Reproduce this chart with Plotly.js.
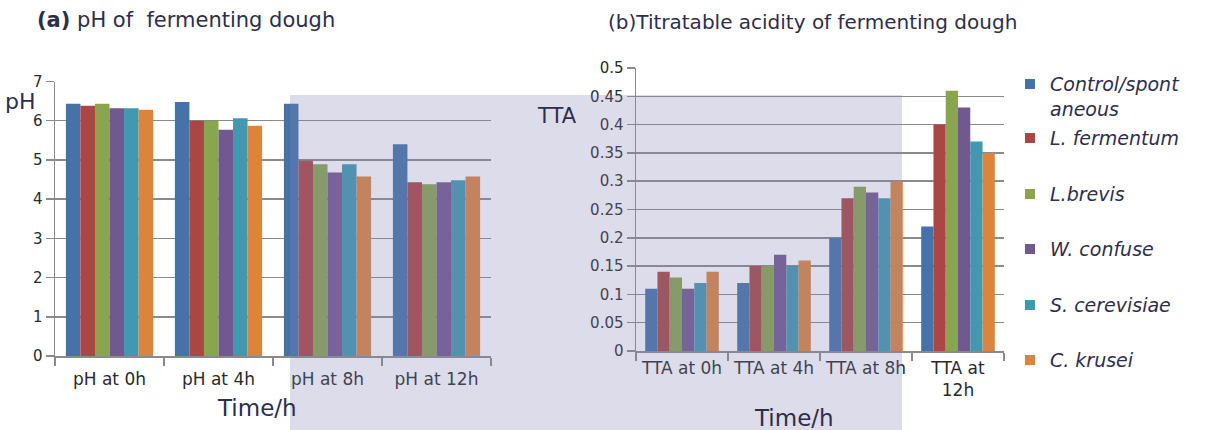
<!DOCTYPE html>
<html>
<head>
<meta charset="utf-8">
<script src="https://cdn.plot.ly/plotly-3.0.1.min.js"></script>
<style>html,body{margin:0;padding:0;background:#fff;}#chart{width:1209px;height:430px;}</style>
</head>
<body>
<div id="chart"></div>
<script>
// ---- data ----
var seriesNames = ["Control/spont<br>aneous", "L. fermentum", "L.brevis", "W. confuse", "S. cerevisiae", "C. krusei"];
var seriesColors = ["#4572A7", "#AA4643", "#89A54E", "#71588F", "#4198AF", "#DB843D"];

var phCategories = ["pH at 0h", "pH at 4h", "pH at 8h", "pH at 12h"];
var phControl   = [6.43, 6.48, 6.43, 5.40];
var phFermentum = [6.38, 6.00, 4.98, 4.43];
var phBrevis    = [6.43, 6.00, 4.89, 4.38];
var phConfuse   = [6.32, 5.77, 4.68, 4.43];
var phCerev     = [6.32, 6.06, 4.89, 4.48];
var phKrusei    = [6.28, 5.87, 4.58, 4.58];

var ttaCategories = ["TTA at 0h", "TTA at 4h", "TTA at 8h", "TTA at<br>12h"];
var ttaControl   = [0.11, 0.12, 0.20, 0.22];
var ttaFermentum = [0.14, 0.15, 0.27, 0.40];
var ttaBrevis    = [0.13, 0.15, 0.29, 0.46];
var ttaConfuse   = [0.11, 0.17, 0.28, 0.43];
var ttaCerev     = [0.12, 0.15, 0.27, 0.37];
var ttaKrusei    = [0.14, 0.16, 0.30, 0.35];

var phSeries  = [phControl, phFermentum, phBrevis, phConfuse, phCerev, phKrusei];
var ttaSeries = [ttaControl, ttaFermentum, ttaBrevis, ttaConfuse, ttaCerev, ttaKrusei];

// ---- layout helpers (pixel -> paper) ----
var W = 1209, H = 430;
function px(x){ return x / W; }
function py(y){ return 1 - y / H; }

var traces = [];
phSeries.forEach(function(vals, i){
  traces.push({type:'bar', x: phCategories, y: vals, name: seriesNames[i],
    marker:{color: seriesColors[i]}, xaxis:'x', yaxis:'y', showlegend:false, hoverinfo:'y'});
});
ttaSeries.forEach(function(vals, i){
  traces.push({type:'bar', x: ttaCategories, y: vals, name: seriesNames[i],
    marker:{color: seriesColors[i]}, xaxis:'x2', yaxis:'y2', showlegend:false, hoverinfo:'y'});
});

var gridC = '#8a8a8a';
var xTickFont = {family:'DejaVu Sans', size:17, color:'#2a2a2a'};
var yTickFont = {family:'DejaVu Sans', size:15, color:'#2a2a2a'};
var axisText = '#2e2e4a';

function xAxis(d, anchor, standoff){
  return {domain:d, anchor:anchor, type:'category', showline:true, linecolor:gridC, linewidth:1.5,
    ticks:'outside', tickson:'boundaries', ticklen:8, tickcolor:gridC, tickwidth:1.5,
    tickfont:xTickFont, ticklabelstandoff:standoff, showgrid:false, fixedrange:true};
}
function yAxis(d, anchor, range, dtick){
  return {domain:d, anchor:anchor, range:range, dtick:dtick, showline:true, linecolor:gridC, linewidth:1.5,
    ticks:'outside', ticklen:8, tickcolor:gridC, tickwidth:1.5, showgrid:true, gridcolor:gridC, gridwidth:1.5,
    zeroline:false, tickfont:yTickFont, fixedrange:true};
}

var annotations = [
  {text:'<b>(a)</b> pH of  fermenting dough', x:px(35), y:py(20), xref:'paper', yref:'paper', xanchor:'left', yanchor:'middle', showarrow:false,
   font:{family:'DejaVu Sans', size:21, color:axisText}},
  {text:'(b)Titratable acidity of fermenting dough', x:px(606), y:py(22), xref:'paper', yref:'paper', xanchor:'left', yanchor:'middle', showarrow:false,
   font:{family:'DejaVu Sans', size:20, color:axisText}},
  {text:'pH', x:px(20), y:py(101), xref:'paper', yref:'paper', xanchor:'center', yanchor:'middle', showarrow:false,
   font:{family:'DejaVu Sans', size:22, color:axisText}},
  {text:'TTA', x:px(557), y:py(116), xref:'paper', yref:'paper', xanchor:'center', yanchor:'middle', showarrow:false,
   font:{family:'DejaVu Sans', size:21, color:axisText}},
  {text:'Time/h', x:px(257), y:py(408), xref:'paper', yref:'paper', xanchor:'center', yanchor:'middle', showarrow:false,
   font:{family:'DejaVu Sans', size:23, color:axisText}},
  {text:'Time/h', x:px(794), y:py(418), xref:'paper', yref:'paper', xanchor:'center', yanchor:'middle', showarrow:false,
   font:{family:'DejaVu Sans', size:23, color:axisText}}
];

// manual legend
var legendY = [84, 138, 194, 249, 305, 360];
var shapes = [];
seriesNames.forEach(function(n, i){
  var yc = legendY[i];
  shapes.push({type:'rect', xref:'paper', yref:'paper', x0:px(1025), x1:px(1035), y0:py(yc+5), y1:py(yc-5),
    fillcolor:seriesColors[i], line:{width:0}});
  annotations.push({text:n, x:px(1048), y:py(i===0 ? yc-13 : yc), xref:'paper', yref:'paper', xanchor:'left', yanchor:(i===0?'top':'middle'),
    align:'left', showarrow:false, font:{family:'DejaVu Sans', size:19, style:'italic', color:'#2e2e4a'}});
});

// watermark panel overlay
shapes.push({type:'rect', xref:'paper', yref:'paper', x0:px(290), x1:px(902), y0:py(430), y1:py(95),
  fillcolor:'rgba(128,128,178,0.28)', line:{width:0}, layer:'above'});

var layout = {
  width:W, height:H, margin:{l:0, r:0, t:0, b:0}, paper_bgcolor:'#ffffff', plot_bgcolor:'rgba(0,0,0,0)',
  barmode:'group', bargap:0.2, bargroupgap:0, showlegend:false,
  xaxis: xAxis([px(55), px(491)], 'y', 7),
  yaxis: yAxis([py(356), py(81.5)], 'x', [0,7], 1),
  xaxis2: xAxis([px(636), px(1004)], 'y2', 1),
  yaxis2: yAxis([py(351), py(68)], 'x2', [0,0.5], 0.05),
  annotations: annotations, shapes: shapes
};

Plotly.newPlot('chart', traces, layout, {displayModeBar:false, staticPlot:true});
</script>
</body>
</html>
